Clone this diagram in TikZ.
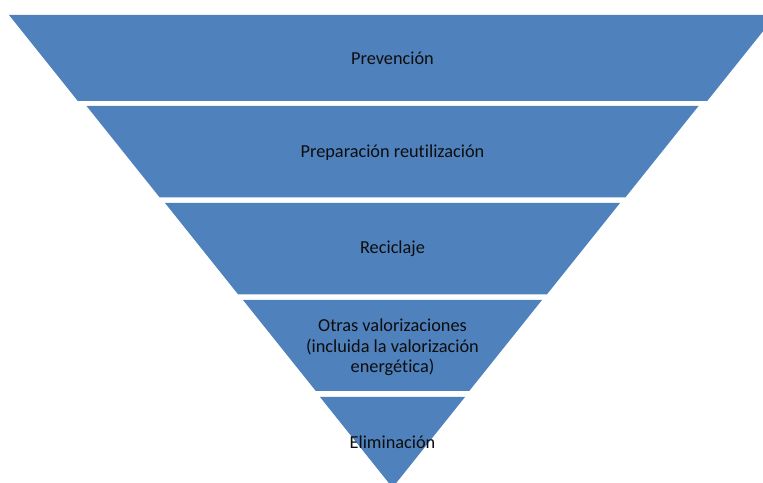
\documentclass[tikz,border=0pt]{standalone}
\usepackage{fontspec}
\setmainfont{Carlito}[Ligatures={NoCommon}]
\definecolor{bandblue}{HTML}{4F81BD}
\definecolor{txt}{HTML}{0D0D0D}
\begin{document}
\begin{tikzpicture}[x=1pt,y=1pt,
  band/.style={fill=bandblue},
  lbl/.style={text=txt,font=\fontsize{18.3}{20.5}\selectfont,inner sep=0pt,align=center}]
\useasboundingbox (0,0) rectangle (763,482);
\begin{scope}
\clip (0,0) rectangle (763,482);
% centre x = 392.5, slope 0.8 per unit height
\fill[band] (9,467) -- (776,467) -- (707.2,381) -- (77.8,381) -- cycle;
\fill[band] (86.5,376) -- (698.5,376) -- (625.3,284.5) -- (159.7,284.5) -- cycle;
\fill[band] (165,279) -- (620,279) -- (546.8,187.5) -- (238.2,187.5) -- cycle;
\fill[band] (243,182) -- (542,182) -- (469.2,91) -- (315.8,91) -- cycle;
\fill[band] (320,85) -- (465,85) -- (392.5,-5.6) -- cycle;
\end{scope}
\node[lbl,anchor=base] (p1) at (392.5,417) {Prevención};
\node[lbl,anchor=base] (p2) at (392.5,324.7) {Preparación reutilización};
\node[lbl,anchor=base] (p3) at (392.5,228) {Reciclaje};
\node[lbl,anchor=center] (p4) at (392.5,134.7) {Otras valorizaciones\\(incluida la valorización\\energética)};
\node[lbl,anchor=base] (p5) at (392.5,34) {Eliminación};
\end{tikzpicture}
\end{document}
